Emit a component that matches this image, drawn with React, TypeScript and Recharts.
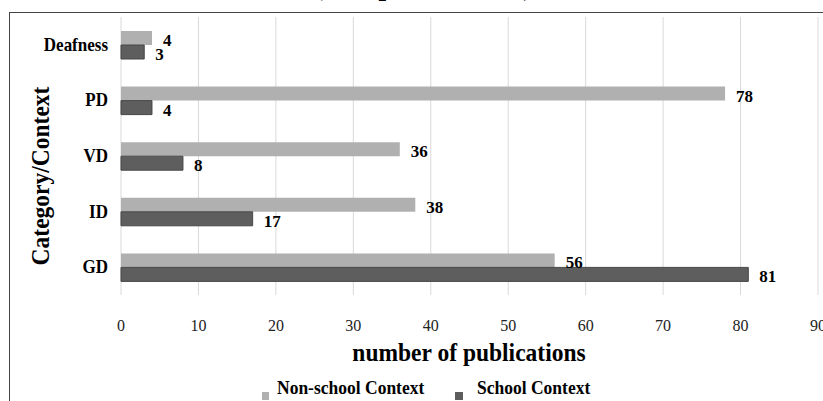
import React from 'react';
import { BarChart, Bar, XAxis, YAxis, CartesianGrid, LabelList } from 'recharts';

const categories = ['Deafness', 'PD', 'VD', 'ID', 'GD'];
const nonSchoolContext = [4, 78, 36, 38, 56];
const schoolContext = [3, 4, 8, 17, 81];
const xTicks = [0, 10, 20, 30, 40, 50, 60, 70, 80, 90];

const FONT = '"Liberation Serif", "Times New Roman", serif';
const LIGHT = '#b0b0b0';
const DARK = '#5e5e5e';

const data = categories.map((c, i) => ({
  category: c,
  nonSchool: nonSchoolContext[i],
  school: schoolContext[i],
}));

function CategoryTick({ y, payload }: any) {
  return (
    <text
      transform={`translate(108, ${y + 6}) scale(1, 1.1)`}
      textAnchor="end"
      fontFamily={FONT}
      fontSize={17}
      fontWeight="bold"
      fill="#000"
    >
      {payload.value}
    </text>
  );
}

function ValueTick({ x, y, payload }: any) {
  return (
    <text x={x} y={y + 27.5} textAnchor="middle" fontFamily={FONT} fontSize={16} fill="#222">
      {payload.value}
    </text>
  );
}

function BarValue({ x, y, width, height, value }: any) {
  return (
    <text x={x + width + 11} y={y + height / 2 + 8} fontFamily={FONT} fontSize={17} fontWeight="bold" fill="#000">
      {value}
    </text>
  );
}

const titleStyle: React.CSSProperties = {
  position: 'absolute',
  fontSize: 23.5,
  fontWeight: 'bold',
  whiteSpace: 'nowrap',
  lineHeight: '26px',
};

const legendText: React.CSSProperties = {
  position: 'absolute',
  top: 378,
  fontSize: 17.5,
  fontWeight: 'bold',
  whiteSpace: 'nowrap',
  lineHeight: '20px',
  transform: 'scaleY(1.1)',
  transformOrigin: 'left bottom',
};

export default function App() {
  return (
    <div style={{ position: 'absolute', left: 0, top: 0, width: 823, height: 401, background: '#fff', overflow: 'hidden', fontFamily: FONT }}>
      {/* title, mostly cut off at the top of the picture */}
      <div style={{ position: 'absolute', left: 314, top: -29, fontSize: 27, fontWeight: 'bold', whiteSpace: 'nowrap', lineHeight: '30px' }}>
        (Complete dataset)
      </div>
      {/* outer frame */}
      <div style={{ position: 'absolute', left: 9, top: 12, width: 830, height: 420, border: '1.5px solid #444', boxSizing: 'border-box' }} />

      <div style={{ position: 'absolute', left: 0, top: 0 }}>
        <BarChart
          width={823}
          height={401}
          data={data}
          layout="vertical"
          margin={{ top: 17, right: 5, left: 0, bottom: 0 }}
          barGap={0}
        >
          <CartesianGrid horizontal={false} stroke="#d9d9d9" />
          <XAxis
            type="number"
            domain={[0, 90]}
            ticks={xTicks}
            axisLine={false}
            tickLine={false}
            height={106}
            tick={<ValueTick />}
            interval={0}
          />
          <YAxis
            type="category"
            dataKey="category"
            width={121}
            axisLine={false}
            tickLine={false}
            tick={<CategoryTick />}
          />
          <Bar dataKey="nonSchool" fill={LIGHT} barSize={14} isAnimationActive={false}>
            <LabelList dataKey="nonSchool" content={<BarValue />} />
          </Bar>
          <Bar dataKey="school" fill={DARK} stroke="#474747" strokeWidth={1} barSize={14} isAnimationActive={false}>
            <LabelList dataKey="school" content={<BarValue />} />
          </Bar>
        </BarChart>
      </div>

      {/* axis titles */}
      <div style={{ ...titleStyle, left: 40, top: 176, transform: 'translate(-50%, -50%) rotate(-90deg) scaleY(1.1)' }}>
        Category/Context
      </div>
      <div style={{ ...titleStyle, left: 469, top: 352, transform: 'translate(-50%, -50%) scaleY(1.1)' }}>
        number of publications
      </div>

      {/* legend */}
      <div style={{ position: 'absolute', left: 262, top: 392, width: 7, height: 8, background: LIGHT }} />
      <div style={{ ...legendText, left: 277 }}>Non-school Context</div>
      <div style={{ position: 'absolute', left: 455, top: 392, width: 8, height: 8, background: DARK }} />
      <div style={{ ...legendText, left: 477 }}>School Context</div>
    </div>
  );
}
